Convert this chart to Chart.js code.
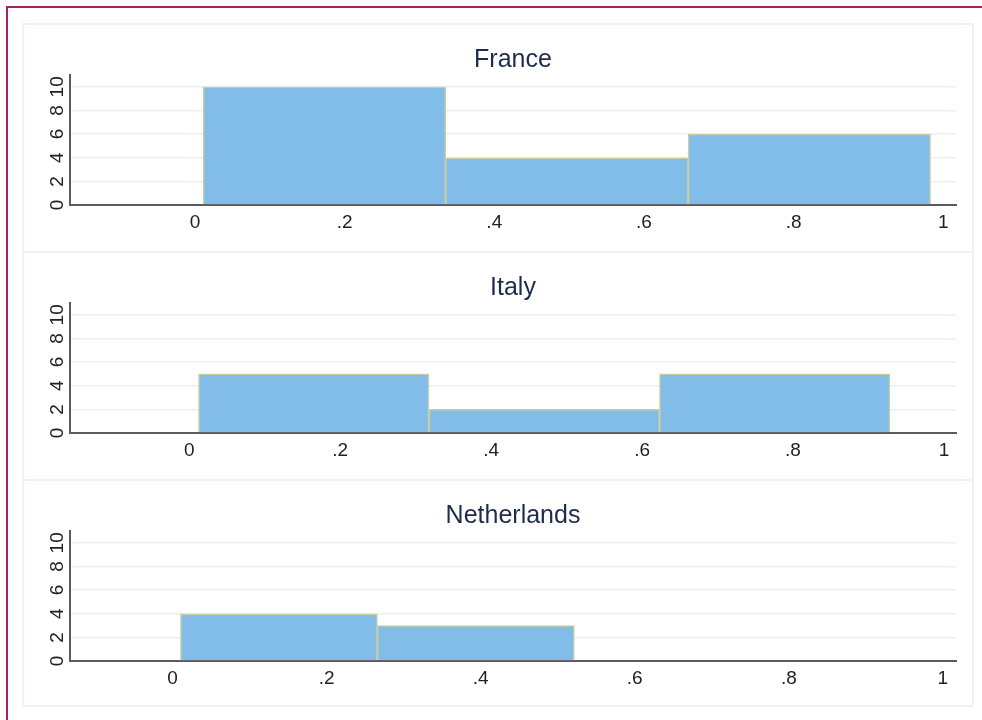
<!DOCTYPE html>
<html>
<head>
<meta charset="utf-8">
<script src="https://cdn.jsdelivr.net/npm/chart.js@4/dist/chart.umd.min.js"></script>
<style>
  html, body { margin: 0; padding: 0; background: #fff; overflow: hidden; }
  body { width: 982px; height: 720px; position: relative; }
  #frame {
    position: absolute; left: 6px; top: 6px; width: 1200px; height: 1200px;
    border-left: 2px solid #a4255f; border-top: 2px solid #a4255f;
  }
  .panel {
    position: absolute; left: 22px; width: 952px; height: 230px;
    box-sizing: border-box; border: 2px solid #edf2f4; background: #fff;
  }
  .panel.last { height: 228px; }
  .panel canvas { display: block; }
</style>
</head>
<body>
<div id="frame"></div>
<div class="panel" style="top:23px"><canvas id="g0"></canvas></div>
<div class="panel" style="top:251px"><canvas id="g1"></canvas></div>
<div class="panel last" style="top:479px"><canvas id="g2"></canvas></div>

<script>
// histogram per country: first bin edge, bin width and counts
const countries = ['France', 'Italy', 'Netherlands'];
const binStart = [0.011, 0.0123, 0.0104];
const binWidth = [0.324, 0.3054, 0.2556];
const franceCounts = [10, 4, 6];
const italyCounts = [5, 2, 5];
const netherlandsCounts = [4, 3];
const allCounts = [franceCounts, italyCounts, netherlandsCounts];

// axis ticks
const xTickValues = [0, 0.2, 0.4, 0.6, 0.8, 1];
const xTickLabels = ['0', '.2', '.4', '.6', '.8', '1'];
const yTickValues = [0, 2, 4, 6, 8, 10];
const yTickLabels = ['0', '2', '4', '6', '8', '10'];

// x range shown in each panel
const xMinByPanel = [-0.167, -0.158, -0.133];
const xMaxByPanel = [1.017, 1.016, 1.017];

const FONT = 'Liberation Sans, Arial, sans-serif';

function makeHistogram(i) {
    const counts = allCounts[i];
    const points = counts.map((c, k) => ({
        x: binStart[i] + binWidth[i] * (k + 0.5),
        y: c
    }));

    const config = {
        type: 'bar',
        data: {
            datasets: [{
                data: points,
                backgroundColor: '#81bde8',
                borderColor: '#c6cea4',
                borderWidth: 1.5,
                barThickness: 'flex',
                barPercentage: 1,
                categoryPercentage: 1
            }]
        },
        options: {
            responsive: false,
            animation: false,
            events: [],
            layout: { padding: { left: 0, right: 16, top: 0, bottom: 0 } },
            scales: {
                x: {
                    type: 'linear',
                    offset: false,
                    min: xMinByPanel[i],
                    max: xMaxByPanel[i],
                    afterBuildTicks: (scale) => {
                        scale.ticks = xTickValues.map(v => ({ value: v }));
                    },
                    afterFit: (scale) => { scale.height = 44; },
                    grid: { display: false, offset: false, drawTicks: false },
                    border: { display: true, color: '#5b5b5b', width: 2 },
                    ticks: {
                        color: '#222',
                        padding: 6,
                        maxRotation: 0,
                        font: { family: FONT, size: 19 },
                        callback: (v, idx) => xTickLabels[idx]
                    }
                },
                y: {
                    min: 0,
                    max: 11,
                    afterBuildTicks: (scale) => {
                        scale.ticks = yTickValues.map(v => ({ value: v }));
                    },
                    afterFit: (scale) => { scale.width = 46; },
                    grid: {
                        drawTicks: false,
                        lineWidth: 1.5,
                        color: (ctx) => ctx.tick && ctx.tick.value === 0 ? 'rgba(0,0,0,0)' : '#e9f0f2'
                    },
                    border: { display: true, color: '#5b5b5b', width: 2 },
                    ticks: {
                        color: '#222',
                        padding: 2,
                        minRotation: 90,
                        maxRotation: 90,
                        crossAlign: 'center',
                        font: { family: FONT, size: 19 },
                        callback: (v, idx) => yTickLabels[idx]
                    }
                }
            },
            plugins: {
                legend: { display: false },
                tooltip: { enabled: false },
                title: {
                    display: true,
                    fullSize: false,
                    text: countries[i],
                    color: '#1e2b4d',
                    padding: { top: 20, bottom: 0 },
                    font: { family: FONT, size: 25, weight: 'normal' }
                }
            }
        }
    };

    const canvas = document.getElementById('g' + i);
    canvas.width = 948;
    canvas.height = 224;
    return new Chart(canvas, config);
}

const graficos = countries.map((c, i) => makeHistogram(i));
</script>
</body>
</html>
